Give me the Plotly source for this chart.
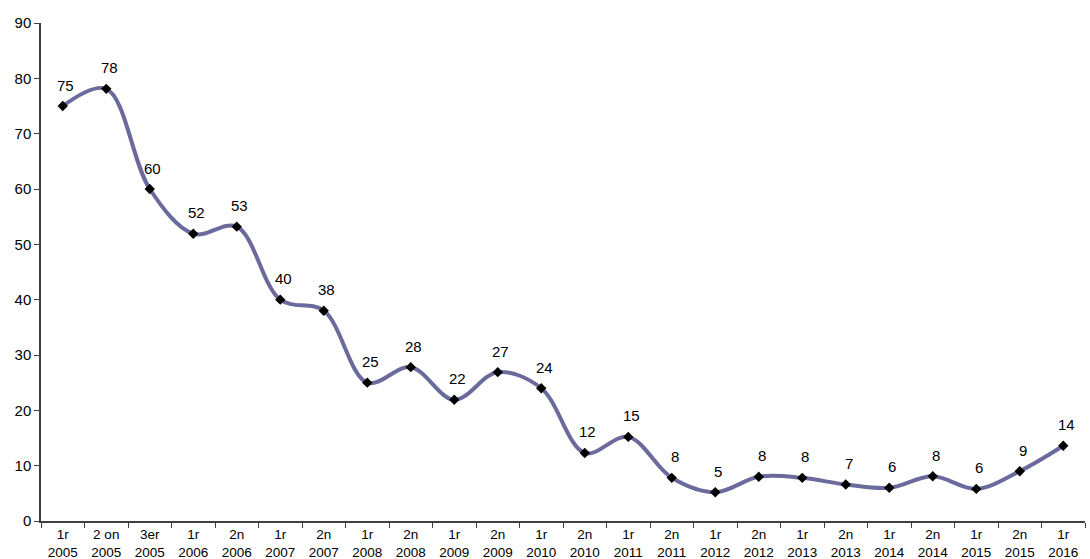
import plotly.graph_objects as go

periods = ["1r<br>2005", "2 on<br>2005", "3er<br>2005", "1r<br>2006", "2n<br>2006",
           "1r<br>2007", "2n<br>2007", "1r<br>2008", "2n<br>2008", "1r<br>2009",
           "2n<br>2009", "1r<br>2010", "2n<br>2010", "1r<br>2011", "2n<br>2011",
           "1r<br>2012", "2n<br>2012", "1r<br>2013", "2n<br>2013", "1r<br>2014",
           "2n<br>2014", "1r<br>2015", "2n<br>2015", "1r<br>2016"]
values = [75.0, 78.1, 60.0, 51.9, 53.2, 40.0, 38.0, 25.0, 27.8, 21.9,
          26.9, 24.0, 12.3, 15.2, 7.8, 5.2, 8.0, 7.8, 6.6, 6.0,
          8.1, 5.8, 9.0, 13.6]
labels = ["75", "78", "60", "52", "53", "40", "38", "25", "28", "22",
          "27", "24", "12", "15", "8", "5", "8", "8", "7", "6",
          "8", "6", "9", "14"]

fig = go.Figure()
fig.add_trace(go.Scatter(
    x=periods, y=values, mode='lines',
    line=dict(color='#6a6a9c', width=4, shape='spline', smoothing=1.0),
    hoverinfo='skip'))
fig.add_trace(go.Scatter(
    x=periods, y=values, mode='markers',
    marker=dict(symbol='diamond', size=8, color='black'),
    hoverinfo='skip'))

for x, y, t in zip(periods, values, labels):
    fig.add_annotation(x=x, y=y, text=t, showarrow=False, yshift=21, xshift=3,
                       font=dict(family='Liberation Sans, Arial', size=15, color='black'))

fig.update_layout(
    width=1090, height=559,
    margin=dict(l=41, r=5, t=23, b=38),
    plot_bgcolor='white', paper_bgcolor='white',
    showlegend=False,
    font=dict(family='Liberation Sans, Arial', size=13, color='black'),
)
fig.update_xaxes(
    type='category', tickson='boundaries', ticks='outside', ticklen=5,
    tickcolor='#404040', showline=True, linecolor='#404040', linewidth=1.5,
    showgrid=False, tickfont=dict(size=13.5), range=[-0.5, len(periods) - 0.5],
    automargin=False)
fig.update_yaxes(
    range=[0, 90], dtick=10, ticks='outside', ticklen=5, tickcolor='#404040',
    showline=True, linecolor='#404040', linewidth=1.5, showgrid=False,
    zeroline=False, tickfont=dict(size=15), automargin=False)

fig.write_html("out.html", config={'displayModeBar': False},
               post_script="document.body.style.margin='0';")
